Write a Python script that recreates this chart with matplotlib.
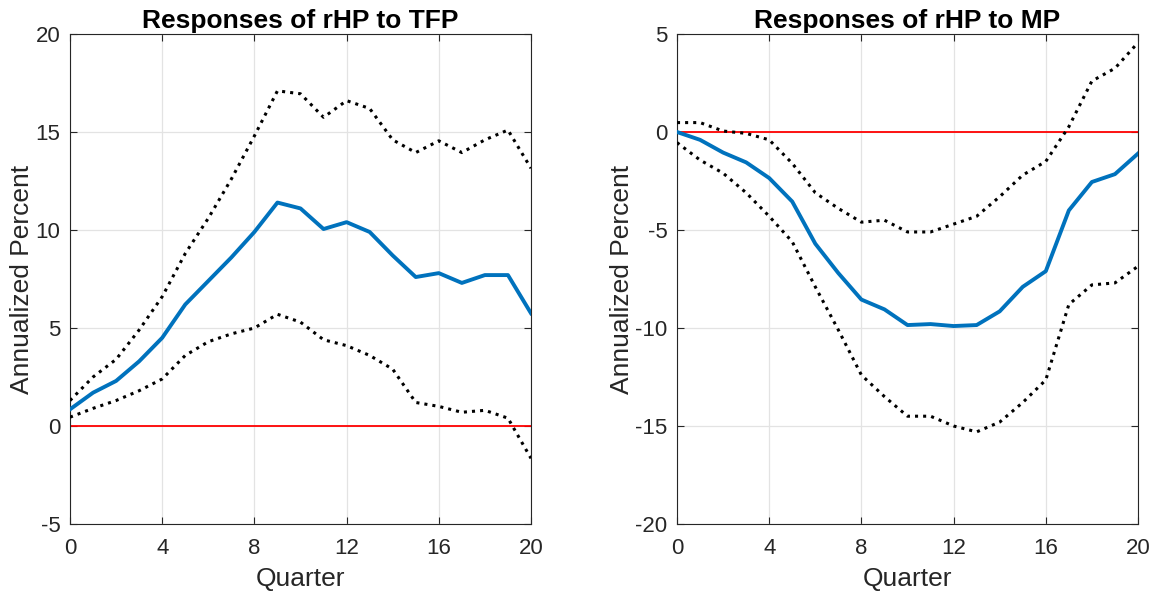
import numpy as np
import matplotlib.pyplot as plt

plt.rcParams['font.family'] = ['Liberation Sans', 'DejaVu Sans']
plt.rcParams['axes.unicode_minus'] = False

quarters = np.arange(21)

# responses to TFP
tfp_median = [0.85, 1.7, 2.3, 3.3, 4.5, 6.2, 7.4, 8.6, 9.9, 11.4, 11.1,
              10.05, 10.4, 9.9, 8.7, 7.6, 7.8, 7.3, 7.7, 7.7, 5.75]
tfp_upper = [1.3, 2.5, 3.4, 4.9, 6.6, 8.8, 10.6, 12.6, 14.8, 17.1, 16.95,
             15.75, 16.6, 16.2, 14.6, 13.95, 14.55, 13.95, 14.6, 15.1, 13.15]
tfp_lower = [0.45, 0.9, 1.3, 1.8, 2.4, 3.6, 4.3, 4.7, 5.0, 5.7, 5.3,
             4.4, 4.1, 3.6, 2.9, 1.2, 1.0, 0.7, 0.8, 0.4, -1.65]

# responses to MP
mp_median = [0.0, -0.4, -1.05, -1.55, -2.35, -3.55, -5.7, -7.2, -8.55, -9.05, -9.85,
             -9.8, -9.9, -9.85, -9.15, -7.9, -7.1, -4.0, -2.55, -2.15, -1.1]
mp_upper = [0.48, 0.48, 0.05, -0.07, -0.4, -1.6, -3.1, -3.9, -4.6, -4.5, -5.1,
            -5.1, -4.7, -4.3, -3.3, -2.2, -1.5, 0.27, 2.6, 3.25, 4.56]
mp_lower = [-0.54, -1.43, -2.1, -3.1, -4.3, -5.6, -7.9, -10.1, -12.4, -13.5, -14.5,
            -14.5, -15.0, -15.3, -14.8, -13.8, -12.65, -8.8, -7.8, -7.7, -6.85]

panels = [
    ("Responses of rHP to TFP", tfp_median, tfp_upper, tfp_lower, (-5, 20)),
    ("Responses of rHP to MP", mp_median, mp_upper, mp_lower, (-20, 5)),
]

fig = plt.figure(figsize=(11.53, 5.98), dpi=100)
W, H = 1153, 598
lefts = [70, 677]
txt = '#262626'

for left, (title, med, up, lo, ylim) in zip(lefts, panels):
    ax = fig.add_axes([left / W, 1 - 524 / H, 461 / W, 490 / H])
    ax.axhline(0, color='red', lw=1.3, zorder=2)
    ax.plot(quarters, up, color='black', ls=':', lw=2.2, zorder=3)
    ax.plot(quarters, lo, color='black', ls=':', lw=2.2, zorder=3)
    ax.plot(quarters, med, color='#0072BD', lw=2.8, zorder=4)
    ax.set_xlim(0, 20)
    ax.set_ylim(*ylim)
    ax.set_xticks(range(0, 21, 4))
    ax.set_yticks(range(ylim[0], ylim[1] + 1, 5))
    ax.grid(True, color='#e3e3e3', lw=0.9)
    ax.set_axisbelow(True)
    ax.tick_params(direction='in', top=True, right=True, labelsize=16,
                   length=5, color=txt, labelcolor=txt)
    ax.tick_params(axis='x', pad=10)
    ax.tick_params(axis='y', pad=7)
    for s in ax.spines.values():
        s.set_color(txt)
        s.set_linewidth(0.8)
    ax.set_title(title, fontsize=19, fontweight='bold', pad=4)
    ax.set_xlabel("Quarter", fontsize=19, color=txt, labelpad=6)
    ax.set_ylabel("Annualized Percent", fontsize=19, color=txt, labelpad=1)

fig.savefig("out.png", dpi=100)
